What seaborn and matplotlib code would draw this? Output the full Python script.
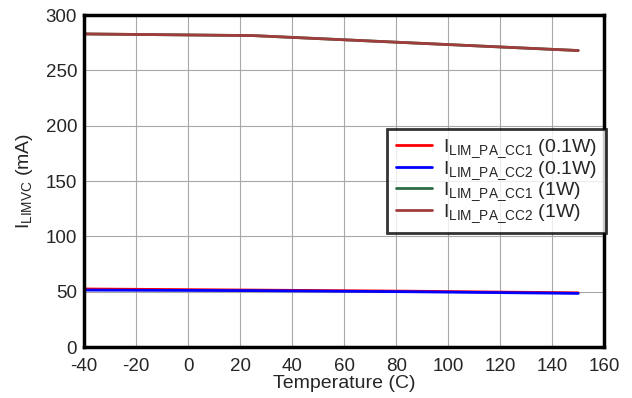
import numpy as np
import pandas as pd
import seaborn as sns
import matplotlib.pyplot as plt

temps = [-40, 25, 85, 150]
cc1_01w = [52.5, 51.5, 50.5, 49.0]
cc2_01w = [51.5, 51.0, 50.0, 48.5]
cc1_1w = [283.0, 281.5, 275.0, 268.0]
cc2_1w = [283.0, 281.5, 275.0, 268.0]

labels = [r'I$_{\mathrm{LIM\_PA\_CC1}}$ (0.1W)', r'I$_{\mathrm{LIM\_PA\_CC2}}$ (0.1W)',
          r'I$_{\mathrm{LIM\_PA\_CC1}}$ (1W)', r'I$_{\mathrm{LIM\_PA\_CC2}}$ (1W)']
colors = ['#ff0000', '#0000ff', '#2e6b45', '#a03c3c']

rows = []
for lab, vals in zip(labels, [cc1_01w, cc2_01w, cc1_1w, cc2_1w]):
    for t, v in zip(temps, vals):
        rows.append({'Temperature': t, 'I': v, 'series': lab})
df = pd.DataFrame(rows)

sns.set_style("white")
plt.rcParams['font.family'] = ['Liberation Sans', 'DejaVu Sans']
plt.rcParams['mathtext.fontset'] = 'custom'
plt.rcParams['mathtext.rm'] = 'Liberation Sans'
plt.rcParams['mathtext.it'] = 'Liberation Sans'
plt.rcParams['axes.unicode_minus'] = False

fig = plt.figure(figsize=(6.32, 3.98), dpi=100)
ax = fig.add_axes([0.133, 0.128, 0.823, 0.834])
sns.lineplot(data=df, x='Temperature', y='I', hue='series', palette=colors,
             linewidth=2, ax=ax)

ax.set_xlim(-40, 160)
ax.set_ylim(0, 300)
ax.set_xticks(np.arange(-40, 161, 20))
ax.set_yticks(np.arange(0, 301, 50))
ax.grid(True, color='#a8a8a8', linewidth=0.8)
for s in ax.spines.values():
    s.set_color('black')
    s.set_linewidth(2.5)
ax.tick_params(axis='x', labelsize=13.5, length=0, pad=8)
ax.tick_params(axis='y', labelsize=13.5, length=0, pad=5)
ax.set_xlabel('Temperature (C)', fontsize=14, labelpad=0)
ax.set_ylabel(r'I$_{\mathrm{LIMVC}}$ (mA)', fontsize=14, labelpad=8)

leg = ax.legend(loc='center right', bbox_to_anchor=(1.004, 0.5), borderaxespad=0,
                fontsize=14, frameon=True, fancybox=False, handlelength=1.85,
                labelspacing=-0.05, borderpad=0.45, handletextpad=0.6)
leg.get_frame().set_edgecolor('black')
leg.get_frame().set_linewidth(2)

fig.savefig('out.png', dpi=100)
